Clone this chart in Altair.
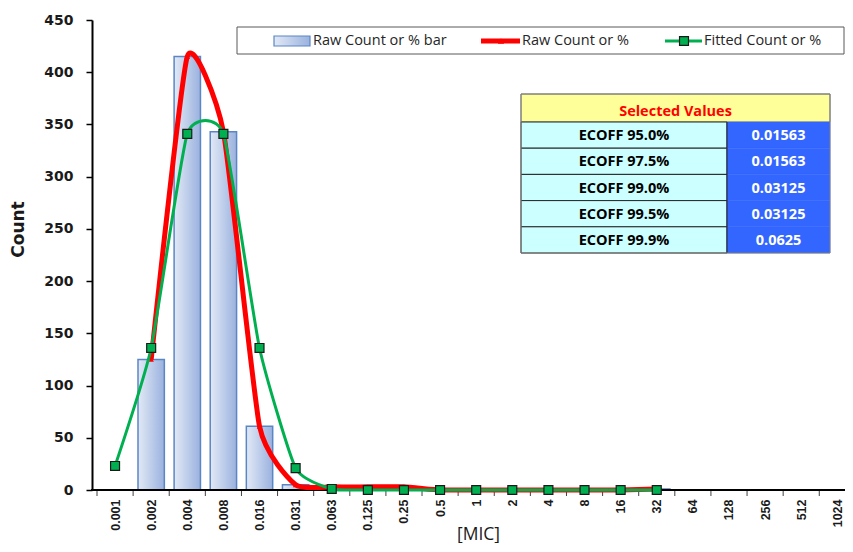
import altair as alt
import pandas as pd

# ---------------- data ----------------
mic_labels = ["0.001", "0.002", "0.004", "0.008", "0.016", "0.031", "0.063", "0.125",
              "0.25", "0.5", "1", "2", "4", "8", "16", "32", "64", "128", "256", "512", "1024"]
raw_counts = [None, 125, 415, 343, 61, 5, 3, 3, 3, 0, 0, 0, 0, 0, 0, 1,
              None, None, None, None, None]
fitted_counts = [23, 136, 341, 341, 136, 21, 1, 0, 0, 0, 0, 0, 0, 0, 0, 0,
                 None, None, None, None, None]
y_ticks = [0, 50, 100, 150, 200, 250, 300, 350, 400, 450]
legend_labels = ["Raw Count or % bar", "Raw Count or %", "Fitted Count or %"]
table_title = "Selected Values"
ecoff_labels = ["ECOFF 95.0%", "ECOFF 97.5%", "ECOFF 99.0%", "ECOFF 99.5%", "ECOFF 99.9%"]
ecoff_values = ["0.01563", "0.01563", "0.03125", "0.03125", "0.0625"]

# ---------------- layout ----------------
PAD_L, PAD_T, PAD_B = 84, 12, 53
W, H = 753, 470
OX, OY = 8 + PAD_L, 8 + PAD_T     # page position of the plot origin
STEP = 36.6                        # pixel width of one MIC category
X_MAX = -0.5 + W / STEP            # the last category is cut at the page edge

RED = "#ff0000"
GREEN = "#00b050"
BAR_FILL = alt.LinearGradient(
    gradient="linear",
    stops=[alt.GradientStop(color="#e2e9f6", offset=0),
           alt.GradientStop(color="#9ab2de", offset=1)],
    x1=0, x2=1, y1=0, y2=0)
BAR_STROKE = "#5b86c5"
TXT_FONT = "Open Sans"

idx = list(range(len(mic_labels)))
bars_df = pd.DataFrame([{"i": i, "count": c} for i, c in zip(idx, raw_counts)
                        if c is not None and c > 0])
raw_df = pd.DataFrame([{"i": i, "count": c} for i, c in zip(idx, raw_counts)
                       if c is not None])
fit_df = pd.DataFrame([{"i": i, "count": c} for i, c in zip(idx, fitted_counts)
                       if c is not None])
edge_df = pd.DataFrame({"i": [i - 0.5 for i in idx]})   # category boundaries

label_js = "[" + ",".join("'%s'" % m for m in mic_labels) + "][round(datum.value)]"
x_scale = alt.Scale(domain=[-0.5, X_MAX], nice=False, zero=False)

x_enc = alt.X(
    "i:Q", scale=x_scale, title="[MIC]",
    axis=alt.Axis(
        values=idx, labelExpr=label_js, grid=False, tickCount=len(idx),
        title="[MIC]", labelAngle=270, labelAlign="right", labelBaseline="middle",
        labelFont="Liberation Sans", labelFontWeight="bold", labelFontSize=12.5,
        labelColor="#1a1a1a", labelPadding=9, labelOverlap=False, labelFlush=False,
        labelBound=False, ticks=False, domain=False,
        titleFont=TXT_FONT, titleFontSize=17.5, titleFontWeight="normal",
        titleColor="#1a1a1a", titleX=386, titleY=44, titleBaseline="middle",
        titleAlign="center"),
)
y_enc = alt.Y(
    "count:Q", title="Count",
    scale=alt.Scale(domain=[0, 450], nice=False, zero=True),
    axis=alt.Axis(
        values=y_ticks, title="Count", grid=False,
        labelFont="DejaVu Sans", labelFontWeight="bold", labelFontSize=14,
        labelColor="#1a1a1a", labelPadding=13,
        tickSize=6, tickColor="black", tickWidth=1.5,
        domainColor="black", domainWidth=2,
        titleFont="DejaVu Sans", titleFontSize=17, titleFontWeight="bold",
        titleColor="#1a1a1a", titleAngle=270, titleX=18 - OX, titleY=229 - OY,
        titleAlign="center", titleBaseline="middle"),
)

bars = alt.Chart(bars_df).mark_bar(
    fill=BAR_FILL, stroke=BAR_STROKE, strokeWidth=1.5, width=STEP * 0.72
).encode(x=x_enc, y=y_enc)

# x-axis ticks at category boundaries
x_ticks = alt.Chart(edge_df).mark_rule(color="#404040", strokeWidth=1).encode(
    x=x_enc, y=alt.value(H), y2=alt.value(H + 6))

red_line = alt.Chart(raw_df).mark_line(
    interpolate="cardinal", tension=0.5, color=RED, strokeWidth=5
).encode(x=x_enc, y=y_enc)
red_pts = alt.Chart(raw_df).mark_point(
    shape="triangle-up", size=30, filled=True, color=RED, opacity=1
).encode(x=x_enc, y=y_enc)

green_line = alt.Chart(fit_df).mark_line(
    interpolate="cardinal", tension=0.5, color=GREEN, strokeWidth=3
).encode(x=x_enc, y=y_enc)
green_pts = alt.Chart(fit_df).mark_point(
    shape="square", size=80, filled=True, fill=GREEN, stroke="#1a1a1a",
    strokeWidth=1.2, opacity=1
).encode(x=x_enc, y=y_enc)

# ---------------- decorations (legend + table), page coordinates ----------------
dummy = pd.DataFrame({"d": [0]})


def rect(x0, x1, y0, y1, **kw):
    return alt.Chart(dummy).mark_rect(**kw).encode(
        x=alt.value(x0 - OX), x2=alt.value(x1 - OX),
        y=alt.value(y0 - OY), y2=alt.value(y1 - OY))


def rule(x0, x1, y0, y1, **kw):
    return alt.Chart(dummy).mark_rule(**kw).encode(
        x=alt.value(x0 - OX), x2=alt.value(x1 - OX),
        y=alt.value(y0 - OY), y2=alt.value(y1 - OY))


def text(s, x, y, **kw):
    return alt.Chart(dummy).mark_text(text=s, **kw).encode(
        x=alt.value(x - OX), y=alt.value(y - OY))


def point(x, y, **kw):
    return alt.Chart(dummy).mark_point(**kw).encode(
        x=alt.value(x - OX), y=alt.value(y - OY))


x_domain = rule(OX - 1, OX + W, OY + H, OY + H, color="black", strokeWidth=2)

deco = []
# legend
LY = 41
deco.append(rect(237, 844, 27, 54, fill="white", stroke="#595959", strokeWidth=1))
deco.append(rect(274, 310, 36, 46, fill=BAR_FILL, stroke=BAR_STROKE, strokeWidth=1.2))
deco.append(text(legend_labels[0], 313, LY, align="left", baseline="middle",
                 font=TXT_FONT, fontSize=14.5, color="#262626"))
deco.append(rule(481, 520, LY, LY, color=RED, strokeWidth=5))
deco.append(point(501, LY, shape="triangle-up", size=40, filled=True, color=RED, opacity=1))
deco.append(text(legend_labels[1], 522, LY, align="left", baseline="middle",
                 font=TXT_FONT, fontSize=14.5, color="#262626"))
deco.append(rule(665, 702, LY, LY, color=GREEN, strokeWidth=3))
deco.append(point(684, LY, shape="square", size=80, filled=True, fill=GREEN,
                  stroke="#1a1a1a", strokeWidth=1.2, opacity=1))
deco.append(text(legend_labels[2], 704, LY, align="left", baseline="middle",
                 font=TXT_FONT, fontSize=14.5, color="#262626"))

# table
TX0, TX1, TX2 = 521, 727, 830
TY0, THB, TY1 = 94, 122, 253
ROW_H = (TY1 - THB) / 5
deco.append(rect(TX0, TX2, TY0, THB, fill="#ffff99", stroke="#7f7f7f", strokeWidth=1))
deco.append(text(table_title, (TX0 + TX2) / 2, 112, align="center", baseline="middle",
                 font=TXT_FONT, fontSize=14.5, fontWeight="bold", color=RED))
for i, (lab, val) in enumerate(zip(ecoff_labels, ecoff_values)):
    y0 = THB + i * ROW_H
    y1 = y0 + ROW_H
    deco.append(rect(TX0, TX1, y0, y1, fill="#ccffff", stroke="#262626", strokeWidth=1))
    deco.append(rect(TX1, TX2, y0, y1, fill="#3366ff", stroke="#3366ff", strokeWidth=0.5))
    deco.append(text(lab, (TX0 + TX1) / 2, (y0 + y1) / 2 + 1, align="center",
                     baseline="middle", font=TXT_FONT, fontSize=14.5, fontWeight="bold",
                     color="black"))
    deco.append(text(val, (TX1 + TX2) / 2, (y0 + y1) / 2 + 1, align="center",
                     baseline="middle", font=TXT_FONT, fontSize=14.5, fontWeight="bold",
                     color="white"))
deco.append(rule(TX1, TX1, THB, TY1, color="#262626", strokeWidth=1))
deco.append(rect(TX0, TX2, TY0, TY1, fill=None, fillOpacity=0, stroke="#7f7f7f",
                 strokeWidth=1))

chart = alt.layer(bars, x_ticks, x_domain, red_line, red_pts, green_line, green_pts,
                  *deco).properties(
    width=W, height=H,
    padding={"left": PAD_L, "top": PAD_T, "right": 0, "bottom": PAD_B},
    autosize=alt.AutoSizeParams(type="none"),
    background="white",
).configure_view(stroke=None)

chart.save("out.html", embed_options={"renderer": "svg", "actions": False})
